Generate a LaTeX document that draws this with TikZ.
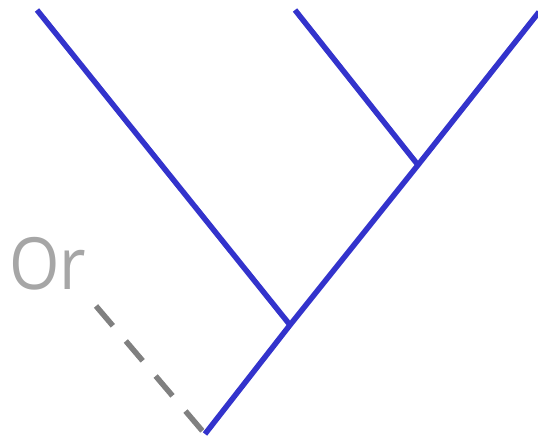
\documentclass[tikz,border=0pt]{standalone}
\usepackage{fontspec}
\setmainfont{Open Sans}
\definecolor{treeblue}{HTML}{3333CC}
\definecolor{dashgray}{HTML}{808080}
\definecolor{labelgray}{HTML}{A6A6A6}
\begin{document}
\begin{tikzpicture}[x=1pt,y=-1pt,
  branch/.style={draw=treeblue,line width=5.5pt},
  ghost/.style={draw=dashgray,line width=5.5pt,dash pattern=on 26pt off 20pt},
  lbl/.style={text=labelgray,font=\fontsize{72}{72}\selectfont,inner sep=0pt,anchor=base west,xscale=0.9}]
\useasboundingbox (0,0) rectangle (538,438);
\coordinate (root) at (205,434);
\coordinate (n1) at (290,325);
\coordinate (n2) at (418,165);
\coordinate (leafA) at (37,10);
\coordinate (leafB) at (295,10);
\coordinate (leafC) at (539,12);
\coordinate (ds) at (96,306);
\node[lbl] (or) at (9,290) {Or};
\draw[branch] (root) -- (n1) -- (n2) -- (leafC);
\draw[branch] (n1) -- (leafA);
\draw[branch] (n2) -- (leafB);
\draw[ghost] (ds) -- (root);
\end{tikzpicture}
\end{document}
